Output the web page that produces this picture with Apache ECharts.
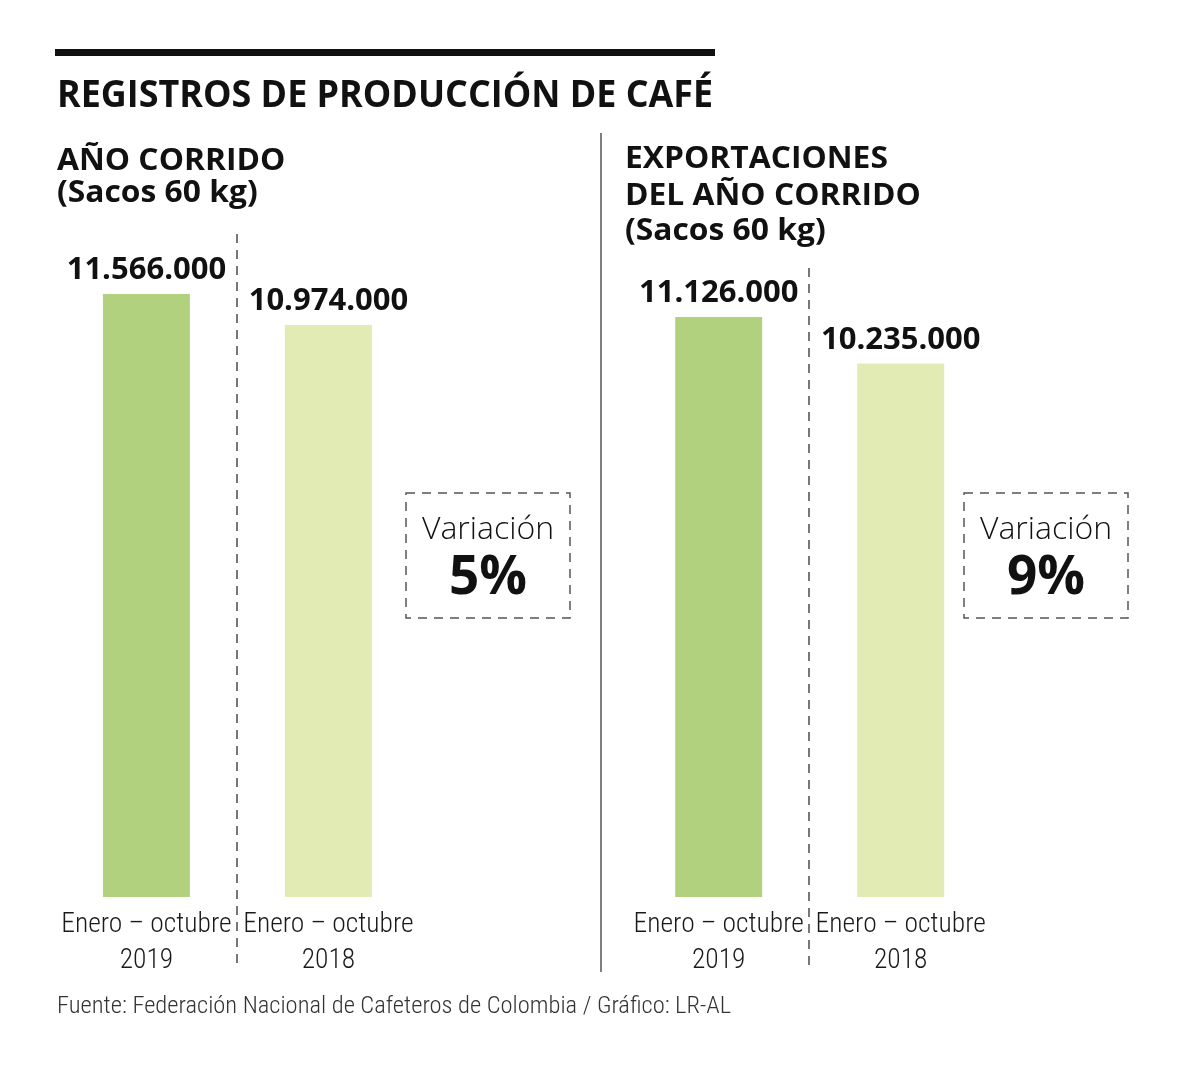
<!DOCTYPE html>
<html><head><meta charset="utf-8">
<script src="https://cdn.jsdelivr.net/npm/echarts@6/dist/echarts.min.js"></script>
<style>html,body{margin:0;padding:0;background:#fff}#c{width:1200px;height:1067px}</style>
</head><body><div id="c"></div>
<script>
const categories = ['Enero – octubre\n2019', 'Enero – octubre\n2018'];
const produccion = [11566000, 10974000];
const exportaciones = [11126000, 10235000];
const variaciones = ['5%', '9%'];
const tituloPrincipal = 'REGISTROS DE PRODUCCIÓN DE CAFÉ';
const subtituloIzq = ['AÑO CORRIDO', '(Sacos 60 kg)'];
const subtituloDer = ['EXPORTACIONES', 'DEL AÑO CORRIDO', '(Sacos 60 kg)'];
const fuente = 'Fuente: Federación Nacional de Cafeteros de Colombia / Gráfico: LR-AL';

const barColors = ['#b1d17f', '#e2ebb3'];
const NARROW = '"Roboto Condensed", "DejaVu Sans Condensed", sans-serif';
const BOLD = '"Open Sans", sans-serif';

function fmt(v){ return String(v).replace(/\B(?=(\d{3})+(?!\d))/g, '.'); }

const chart = echarts.init(document.getElementById('c'), null, {renderer:'canvas'});

function xAx(i){
  return {type:'category', gridIndex:i, data:categories,
    axisLine:{show:false}, axisTick:{show:false},
    axisLabel:{fontFamily:NARROW, fontWeight:300, fontSize:27.5, lineHeight:36, color:'#1a1a1a', margin:10, interval:0}};
}
function yAx(i){ return {type:'value', gridIndex:i, min:0, max:12000000, show:false, splitLine:{show:false}}; }
function bar(i, data){
  return {type:'bar', xAxisIndex:i, yAxisIndex:i, data:data, barWidth:87,
    itemStyle:{color:p=>barColors[p.dataIndex]},
    label:{show:true, position:'top', distance:8, formatter:p=>fmt(p.value),
      fontFamily:BOLD, fontWeight:'bold', fontSize:31, color:'#111'}};
}
function head(x, y, t, size, sx){
  return {type:'text', x:x, y:y, scaleX:sx, style:{text:t, font:'bold ' + size + 'px "Open Sans"', fill:'#111', textVerticalAlign:'middle'}};
}

const graphic = [
  {type:'rect', shape:{x:55,y:49,width:660,height:7}, style:{fill:'#111'}},
  head(57, 96.5, tituloPrincipal, 37, 0.97),
  head(57, 161.5, subtituloIzq[0], 30, 1.06),
  head(57, 193, subtituloIzq[1], 30, 1.06),
  head(625, 159.5, subtituloDer[0], 30, 1.06),
  head(625, 196.5, subtituloDer[1], 30, 1.06),
  head(625, 231, subtituloDer[2], 30, 1.06),
  {type:'line', shape:{x1:601,y1:133,x2:601,y2:972}, style:{stroke:'#555', lineWidth:1.5}},
  {type:'line', shape:{x1:237,y1:234,x2:237,y2:970}, style:{stroke:'#777', lineWidth:2, lineDash:[9,7]}},
  {type:'line', shape:{x1:809,y1:268,x2:809,y2:968}, style:{stroke:'#777', lineWidth:2, lineDash:[9,7]}},
  {type:'rect', shape:{x:406,y:493,width:164,height:125}, style:{fill:'none', stroke:'#555', lineWidth:1.5, lineDash:[9,7]}},
  {type:'rect', shape:{x:964,y:493,width:164,height:125}, style:{fill:'none', stroke:'#555', lineWidth:1.5, lineDash:[9,7]}},
  {type:'text', x:488, y:530, style:{text:'Variación', font:'300 32px "Open Sans"', fill:'#111', textAlign:'center', textVerticalAlign:'middle'}},
  {type:'text', x:488, y:579, style:{text:variaciones[0], font:'bold 53px "Open Sans"', fill:'#111', textAlign:'center', textVerticalAlign:'middle'}},
  {type:'text', x:1046, y:530, style:{text:'Variación', font:'300 32px "Open Sans"', fill:'#111', textAlign:'center', textVerticalAlign:'middle'}},
  {type:'text', x:1046, y:579, style:{text:variaciones[1], font:'bold 53px "Open Sans"', fill:'#111', textAlign:'center', textVerticalAlign:'middle'}},
  {type:'text', x:57, y:1007, style:{text:fuente, font:'300 24.5px ' + NARROW, fill:'#333', textVerticalAlign:'middle'}}
];

chart.setOption({
  animation:false,
  backgroundColor:'#fff',
  grid:[
    {left:55.4, top:271.4, width:364, height:625.6},
    {left:627.7, top:271.4, width:364, height:625.6}
  ],
  xAxis:[xAx(0), xAx(1)],
  yAxis:[yAx(0), yAx(1)],
  series:[bar(0, produccion), bar(1, exportaciones)],
  graphic:graphic
});
</script></body></html>
